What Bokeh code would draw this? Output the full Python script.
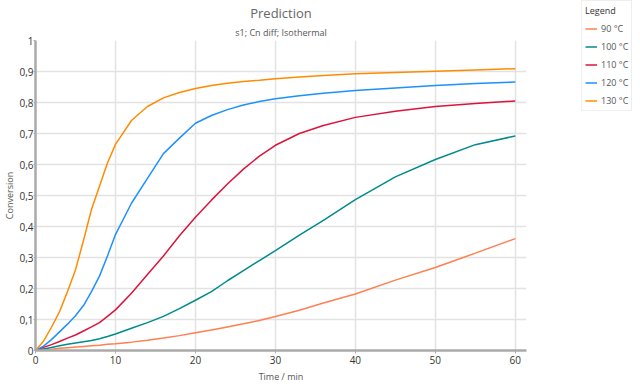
from bokeh.plotting import figure
from bokeh.layouts import row
from bokeh.models import Title, Legend, LegendItem, FixedTicker, Range1d
from bokeh.embed import file_html
from bokeh.resources import INLINE

time_min = [0, 1, 2, 3, 4, 5, 6, 7, 8, 9, 10, 12, 14, 16, 18, 20, 22, 24, 26, 28, 30, 33, 36, 40, 45, 50, 55, 60]

conv_90 = [0, 0.002, 0.004, 0.007, 0.009, 0.011, 0.013, 0.015, 0.017, 0.02, 0.022, 0.027, 0.033, 0.04, 0.048,
           0.057, 0.066, 0.076, 0.086, 0.097, 0.11, 0.13, 0.153, 0.182, 0.227, 0.268, 0.314, 0.361]
conv_100 = [0, 0.005, 0.01, 0.015, 0.02, 0.024, 0.028, 0.032, 0.038, 0.045, 0.053, 0.072, 0.09, 0.11, 0.135,
            0.162, 0.19, 0.225, 0.258, 0.29, 0.322, 0.372, 0.42, 0.487, 0.56, 0.616, 0.664, 0.692]
conv_110 = [0, 0.01, 0.019, 0.029, 0.04, 0.05, 0.063, 0.076, 0.09, 0.11, 0.131, 0.185, 0.245, 0.305, 0.37,
            0.43, 0.485, 0.537, 0.585, 0.627, 0.662, 0.70, 0.726, 0.752, 0.772, 0.787, 0.797, 0.805]
conv_120 = [0, 0.014, 0.035, 0.06, 0.085, 0.112, 0.145, 0.19, 0.24, 0.305, 0.374, 0.475, 0.555, 0.635, 0.685,
            0.733, 0.758, 0.777, 0.792, 0.803, 0.812, 0.822, 0.83, 0.839, 0.847, 0.855, 0.861, 0.866]
conv_130 = [0, 0.03, 0.075, 0.125, 0.19, 0.26, 0.355, 0.455, 0.53, 0.605, 0.665, 0.742, 0.787, 0.815, 0.832,
            0.845, 0.855, 0.862, 0.868, 0.872, 0.877, 0.882, 0.887, 0.893, 0.897, 0.901, 0.905, 0.909]

series_labels = ["90 °C", "100 °C", "110 °C", "120 °C", "130 °C"]
series_values = [conv_90, conv_100, conv_110, conv_120, conv_130]
series_colors = ["#FF7F50", "#008B8B", "#DC143C", "#1E90FF", "#FF8C00"]

x_ticks = [0, 10, 20, 30, 40, 50, 60]
y_ticks = [0, 0.1, 0.2, 0.3, 0.4, 0.5, 0.6, 0.7, 0.8, 0.9, 1]
y_tick_labels = ["0", "0,1", "0,2", "0,3", "0,4", "0,5", "0,6", "0,7", "0,8", "0,9", "1"]

FONT = "Open Sans"

p = figure(width=581, height=385, output_backend="svg", toolbar_location=None,
           x_range=Range1d(0, 61.4), y_range=Range1d(0, 1), frame_align=False,
           min_border_left=0, min_border_right=55, min_border_top=35, min_border_bottom=0,
           background_fill_color="white", border_fill_color="white", outline_line_color=None)
p.title = None

sub = Title(text="s1; Cn diff; Isothermal", align="center", text_font=FONT,
            text_font_size="9px", text_color="#555555", text_font_style="normal", standoff=3)
main = Title(text="Prediction", align="center", text_font=FONT,
             text_font_size="13px", text_color="#666666", text_font_style="normal", standoff=2)
p.add_layout(sub, "above")
p.add_layout(main, "above")

for lbl, vals, col in zip(series_labels, series_values, series_colors):
    p.line(time_min, vals, line_color=col, line_width=1.5)

for ax in (p.xaxis[0], p.yaxis[0]):
    ax.axis_line_color = "#aaaaaa"
    ax.axis_line_width = 2.5
    ax.major_tick_line_color = "#aaaaaa"
    ax.major_tick_out = 3
    ax.major_tick_in = 0
    ax.minor_tick_line_color = None
    ax.major_label_text_font = FONT
    ax.major_label_text_font_size = "10px"
    ax.major_label_text_color = "#333333"
    ax.axis_label_text_font = FONT
    ax.axis_label_text_font_size = "9px"
    ax.axis_label_text_color = "#555555"
    ax.axis_label_text_font_style = "normal"
p.yaxis[0].major_label_standoff = 0
p.yaxis[0].axis_label_standoff = 0
p.yaxis[0].major_tick_out = 2
p.xaxis[0].major_label_standoff = 2
p.xaxis[0].axis_label_standoff = 3

p.xaxis[0].ticker = FixedTicker(ticks=x_ticks)
p.yaxis[0].ticker = FixedTicker(ticks=y_ticks)
p.yaxis[0].major_label_overrides = {t: s for t, s in zip(y_ticks, y_tick_labels)}
p.xaxis[0].axis_label = "Time / min"
p.yaxis[0].axis_label = "Conversion"

p.xgrid[0].ticker = FixedTicker(ticks=x_ticks)
p.ygrid[0].ticker = FixedTicker(ticks=y_ticks)
for g in (p.xgrid[0], p.ygrid[0]):
    g.grid_line_color = "#e2e2e2"
    g.grid_line_width = 1.5

# legend panel: a second figure whose copies of the lines lie outside its view
q = figure(width=59, height=385, output_backend="svg", toolbar_location=None,
           x_range=Range1d(1000, 1001), y_range=Range1d(0, 1), frame_align=False,
           x_axis_location=None, y_axis_location=None,
           min_border_left=0, min_border_right=0, min_border_top=0, min_border_bottom=0,
           background_fill_color="white", border_fill_color="white", outline_line_color=None)
q.xgrid.visible = False
q.ygrid.visible = False
legend_renderers = []
for lbl, vals, col in zip(series_labels, series_values, series_colors):
    legend_renderers.append(q.line(time_min, vals, line_color=col, line_width=1.5))

legend = Legend(items=[LegendItem(label=l, renderers=[r]) for l, r in zip(series_labels, legend_renderers)],
                location="top_left", title="Legend", title_text_font=FONT, title_text_font_size="9px",
                title_text_color="#333333", title_standoff=5, title_text_font_style="normal",
                label_text_font=FONT, label_text_font_size="9px", label_text_color="#555555",
                glyph_width=12, glyph_height=11, label_height=11, label_standoff=4,
                spacing=5, padding=3, margin=0,
                border_line_color="#dddddd", background_fill_alpha=0)
q.add_layout(legend, "center")

layout = row(p, q, spacing=0)
open("out.html", "w").write(file_html(layout, INLINE))
